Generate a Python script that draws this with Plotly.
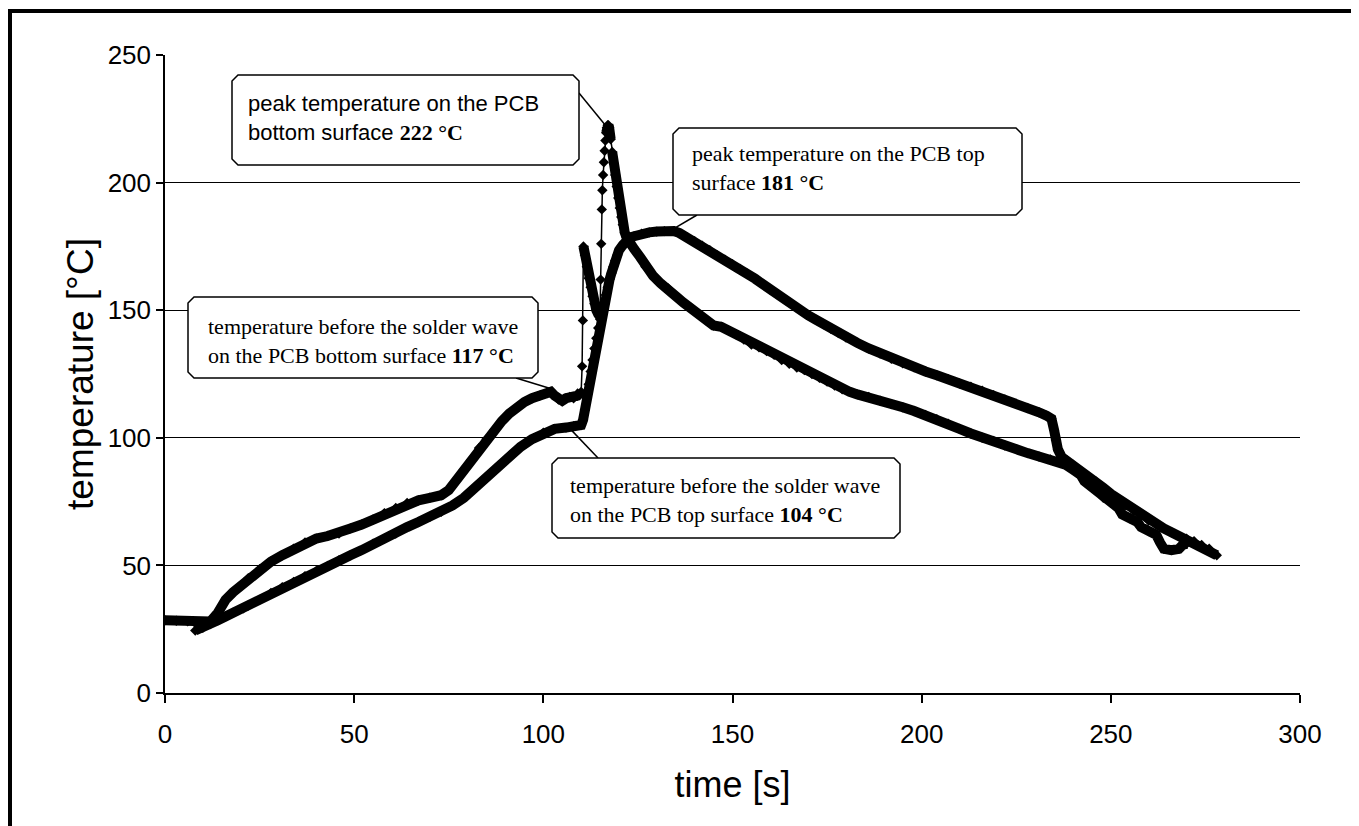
import plotly.graph_objects as go

# ---------------- data ----------------
# PCB bottom surface
bottom_t = [0, 3, 6, 9, 11, 12, 14, 16, 18, 20,
            22, 25, 28, 31, 34, 37, 40, 43, 46, 49,
            52, 55, 58, 61, 64, 67, 70, 73, 75, 77,
            79, 81, 83, 85, 87, 89, 91, 93, 95, 97,
            99, 101, 102, 103, 104, 105, 106, 107, 108, 109,
            110, 110.25, 110.45, 110.6, 111, 111.5, 112, 112.5, 113, 113.5,
            114, 114.5, 115, 115.15, 115.3, 115.45, 115.6, 115.8, 116, 116.2,
            116.4, 116.6, 116.8, 117, 117.2, 117.4, 117.8, 118.2, 118.6, 119,
            119.4, 119.8, 120.2, 120.6, 121, 121.5, 122, 122.5, 123.2, 124,
            125.5, 127, 129, 131, 133, 135, 137, 139, 141, 143,
            145, 147, 149, 151, 153, 155, 157, 159, 161, 163,
            165, 167, 169, 171, 173, 175, 177, 179, 181, 183,
            186, 189, 192, 195, 198, 201, 204, 207, 210, 213,
            216, 219, 222, 225, 228, 231, 234, 236, 238, 240,
            242, 243, 245, 247, 248, 250, 252, 253, 255, 257,
            258, 260, 262, 263, 264, 266, 268, 269, 270]
bottom_T = [28.5, 28.3, 28.1, 27.8, 27.6, 28, 31.5, 36.5, 39.5, 42,
            45, 48.5, 51.5, 54, 56.5, 59, 60.5, 61.5, 62.5, 64.5,
            66, 68, 70.5, 72.5, 74.5, 75.5, 76.5, 77.5, 79.5, 83.5,
            87.5, 91.5, 96, 99.5, 103, 106.5, 109.5, 112, 114, 115.5,
            116.5, 117.5, 118, 116.5, 115, 114.5, 115.5, 116, 115.5, 116.5,
            118, 128, 146, 175, 171.5, 167, 162.5, 159, 155.5, 152.5,
            150, 148.5, 147.5, 162, 176, 189.5, 197, 203, 208, 212.5,
            216.5, 219.5, 221.5, 222.5, 222.5, 221.5, 217, 212, 207.5, 203,
            198.5, 194, 190, 186.5, 183.5, 180.5, 178.5, 177, 175.5, 174,
            171, 167, 163.5, 160.5, 158.5, 155.5, 153, 151, 148.5, 146,
            144, 143.5, 142, 140.5, 138.5, 136.5, 135.5, 134, 132.5, 130.5,
            129, 127.5, 126.5, 125, 123.5, 122, 120.5, 119, 118, 117,
            116, 114.5, 113.2, 112, 110.5, 109, 107.3, 105.5, 103.5, 101.7,
            100, 98.8, 97, 95.5, 94, 92.7, 91.5, 90.8, 89.5, 87.5,
            85.5, 83, 80.5, 79, 76.5, 74.5, 72.5, 70, 68.5, 67,
            65, 63.5, 62, 59, 56.5, 56, 56.5, 58, 58.5]

# PCB top surface
top_t = [8, 10, 12, 14, 16, 18, 20.7, 22, 25, 28,
         31, 34, 37, 40, 43, 46, 49, 52, 55, 58,
         61, 64, 67, 70, 73, 76, 79, 82, 85, 88,
         91, 94, 97, 100, 103, 106, 108, 110, 110.5, 111,
         111.5, 112, 112.5, 113, 113.5, 114, 114.5, 115, 115.5, 116,
         116.5, 117, 117.5, 118, 118.5, 119, 119.5, 120, 121, 122,
         123, 124, 126, 128, 130, 132, 134.5, 136, 138, 140,
         142, 144, 146, 148, 150, 152, 154, 156, 158, 160,
         162, 164, 166, 168, 170, 172, 174, 176, 178, 180,
         183, 186, 189, 192, 195, 198, 201, 204, 207, 210,
         213, 216, 219, 222, 225, 228, 231, 233, 234.3, 235,
         235.5, 236, 237, 238.5, 240, 242, 244, 246, 248, 250,
         252, 254, 256, 258, 260, 262, 264, 266, 268, 270,
         272, 274, 276, 278]
top_T = [24.5, 25.5, 27, 28.5, 30, 31.5, 33.2, 34.3, 36.5, 39.2,
         41.5, 43.5, 45.8, 47.8, 49.8, 52, 54, 56, 58.5, 60.5,
         62.5, 65, 67, 69, 71, 73.5, 76.5, 80.5, 84.5, 88.5,
         93, 96.5, 99.5, 102, 103.5, 104, 104.5, 105, 107, 111,
         116, 121, 126, 130.5, 135, 139, 143, 146.5, 150, 153,
         156, 159, 162, 164.5, 167, 169.5, 171.5, 173.5, 175.5, 177.5,
         178.5, 179, 180, 180.5, 180.8, 181, 181, 180.2, 178.5, 177,
         175.3, 173.5, 171.5, 169.8, 168, 166.2, 164.3, 162.3, 160.2, 158,
         156, 154, 152, 150, 148, 146.3, 144.5, 142.7, 141, 139.3,
         137.2, 135, 133, 131, 129.2, 127.6, 126, 124.5, 123, 121.3,
         120, 118.5, 116.7, 115, 113.3, 111.7, 110, 108.7, 107.5, 103,
         99, 95.5, 92.5, 91, 89.5, 87, 85, 83, 80.5, 78,
         76, 73.5, 71.5, 69.5, 67.5, 66, 64.5, 63, 61.5, 60.5,
         59.5, 58, 56.5, 54]

x_ticks = [0, 50, 100, 150, 200, 250, 300]
y_ticks = [0, 50, 100, 150, 200, 250]

# callout texts and the points they point at
callout_texts = [
    'peak temperature on the PCB<br>bottom surface '
    '<span style="font-family:Liberation Serif"><b>222 °C</b></span>',
    'peak temperature on the PCB top<br>surface <b>181 °C</b>',
    'temperature before the solder wave<br>on the PCB bottom surface <b>117 °C</b>',
    'temperature before the solder wave<br>on the PCB top surface <b>104 °C</b>',
]
callout_targets = [(116.4, 222.5), (134.5, 182), (102.5, 119), (107.1, 103.5)]

# ---------------- layout geometry ----------------
# positions below are page pixels; the page body adds an 8 px offset to the figure
W, H = 1359, 826
OFF = 8
PL, PT, PR, PB = 165, 55, 1300, 693          # plot area in page pixels
PW, PH = PR - PL, PB - PT
X0, X1, Y0, Y1 = 0, 300, 0, 250


def px_x(px):
    return X0 + (px - PL) / PW * (X1 - X0)


def px_y(py):
    return Y0 + (PB - py) / PH * (Y1 - Y0)


def thick_parts(t, v, max_rate=12.0):
    """Slowly changing stretches are densely sampled -> drawn as a heavy band."""
    xs, ys = [t[0]], [v[0]]
    for i in range(1, len(t)):
        rate = abs(v[i] - v[i - 1]) / max(t[i] - t[i - 1], 1e-9)
        if rate > max_rate:
            xs += [None, t[i]]
            ys += [None, v[i]]
        else:
            xs.append(t[i])
            ys.append(v[i])
    return xs, ys


fig = go.Figure()
for name, t, v in [('bottom surface', bottom_t, bottom_T), ('top surface', top_t, top_T)]:
    tx, ty = thick_parts(t, v)
    fig.add_trace(go.Scatter(x=tx, y=ty, mode='lines', name=name,
                             line=dict(color='black', width=10), showlegend=False,
                             hoverinfo='skip'))
    fig.add_trace(go.Scatter(x=t, y=v, mode='lines+markers', name=name,
                             line=dict(color='black', width=1.5),
                             marker=dict(symbol='diamond', size=8, color='black'),
                             showlegend=False))

# callout boxes (page pixel boxes), text anchors, leader start points
boxes = [(232, 75, 579, 165), (673, 128, 1022, 215), (188, 297, 538, 378), (552, 458, 900, 538)]
text_pos = [(246, 118), (690, 168), (206, 341), (568, 500)]
leader_start = [(579, 93), (697, 215), (516, 378), (598, 458)]
fonts = ['Liberation Sans', 'Liberation Serif', 'Liberation Serif', 'Liberation Serif']

shapes = []
c = 6
for (bx0, by0, bx1, by1), (sx, sy), (tx_, ty_) in zip(boxes, leader_start, callout_targets):
    shapes.append(dict(type='line', xref='x', yref='y', x0=px_x(sx), y0=px_y(sy), x1=tx_, y1=ty_,
                       line=dict(color='black', width=1.5), layer='above'))
    pts = [(bx0 + c, by0), (bx1 - c, by0), (bx1, by0 + c), (bx1, by1 - c), (bx1 - c, by1),
           (bx0 + c, by1), (bx0, by1 - c), (bx0, by0 + c)]
    path = 'M ' + ' L '.join(f'{px_x(a):.4f},{px_y(b):.4f}' for a, b in pts) + ' Z'
    shapes.append(dict(type='path', xref='x', yref='y', path=path, fillcolor='white',
                       line=dict(color='black', width=1.5), layer='above'))

# outer frame of the whole picture (page pixels: left 10, top 11, right 1354)
shapes.append(dict(type='rect', xref='paper', yref='paper',
                   x0=(10 - PL) / PW, x1=(1354 - PL) / PW,
                   y0=(PB - 850) / PH, y1=(PB - 11) / PH,
                   line=dict(color='black', width=4), fillcolor='rgba(0,0,0,0)', layer='above'))

annotations = []
for txt, (ax, ay), fnt in zip(callout_texts, text_pos, fonts):
    annotations.append(dict(x=px_x(ax), y=px_y(ay), xref='x', yref='y', text=txt,
                            showarrow=False, xanchor='left', yanchor='middle', align='left',
                            font=dict(family=fnt, size=22, color='black')))

fig.update_layout(
    width=W, height=H,
    margin=dict(l=PL - OFF, r=W - (PR - OFF), t=PT - OFF, b=H - (PB - OFF)),
    paper_bgcolor='white', plot_bgcolor='white',
    shapes=shapes, annotations=annotations,
    xaxis=dict(range=[X0, X1], tickvals=x_ticks, ticktext=[str(v) for v in x_ticks],
               showgrid=False, zeroline=False, showline=True, linecolor='black', linewidth=1.5,
               ticks='outside', ticklen=8, tickwidth=1.5, tickcolor='black',
               ticklabelstandoff=9,
               tickfont=dict(family='Liberation Sans', size=26, color='black'),
               title=dict(text='time [s]', standoff=24,
                          font=dict(family='Liberation Sans', size=36, color='black'))),
    yaxis=dict(range=[Y0, Y1], tickvals=y_ticks, ticktext=[str(v) for v in y_ticks],
               showgrid=True, gridcolor='black', gridwidth=1.2, zeroline=False,
               showline=True, linecolor='black', linewidth=1.5,
               ticks='outside', ticklen=7, tickwidth=1.5, tickcolor='black',
               tickfont=dict(family='Liberation Sans', size=26, color='black'),
               title=dict(text='temperature [°C]', standoff=3,
                          font=dict(family='Liberation Sans', size=37, color='black'))),
)

fig.write_html('out.html')
